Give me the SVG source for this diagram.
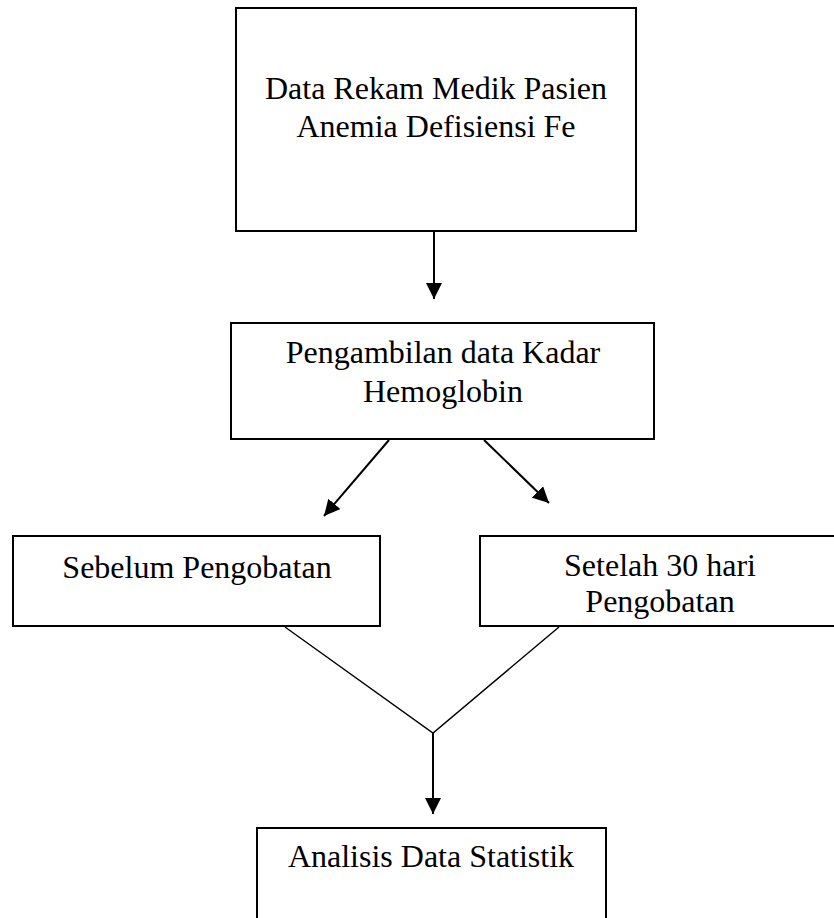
<svg xmlns="http://www.w3.org/2000/svg" width="834" height="918" viewBox="0 0 834 918">
<defs>
<style>
.box{fill:#fff;stroke:#000;stroke-width:2}
.t{font-family:"Liberation Serif","Times New Roman",serif;font-size:32px;fill:#000;text-anchor:middle}
.c{stroke:#000;stroke-width:2;fill:none}
.v{stroke:#000;stroke-width:1.4;fill:none}
</style>
<marker id="ah" viewBox="0 0 10 10" refX="10" refY="5" markerWidth="8" markerHeight="8" markerUnits="userSpaceOnUse" orient="auto">
<path d="M0,0 L10,5 L0,10 z" fill="#000"/>
</marker>
<marker id="ah2" viewBox="0 0 10 10" refX="10" refY="5" markerWidth="16" markerHeight="16" markerUnits="userSpaceOnUse" orient="auto">
<path d="M0,0 L10,5 L0,10 z" fill="#000"/>
</marker>
</defs>
<rect width="834" height="918" fill="#fff"/>
<g id="connectors">
<line class="c" x1="434" y1="232" x2="434" y2="299" marker-end="url(#ah2)"/>
<line class="c" x1="389" y1="440" x2="324" y2="516" marker-end="url(#ah2)"/>
<line class="c" x1="484" y1="440" x2="549" y2="503" marker-end="url(#ah2)"/>
<polyline class="v" points="285,627 433,733 559,627"/>
<line class="c" x1="433" y1="733" x2="433" y2="814" marker-end="url(#ah2)"/>
</g>
<g id="n1">
<rect class="box" x="236" y="8" width="400" height="223"/>
<text class="t" x="436" y="99">Data Rekam Medik Pasien</text>
<text class="t" x="436" y="137">Anemia Defisiensi Fe</text>
</g>
<g id="n2">
<rect class="box" x="231" y="323" width="423" height="116"/>
<text class="t" x="443" y="363">Pengambilan data Kadar</text>
<text class="t" x="443" y="402">Hemoglobin</text>
</g>
<g id="n3">
<rect class="box" x="13" y="536" width="367" height="90"/>
<text class="t" x="197" y="578">Sebelum Pengobatan</text>
</g>
<g id="n4">
<rect class="box" x="480" y="536" width="362" height="90"/>
<text class="t" x="660" y="576">Setelah 30 hari</text>
<text class="t" x="660" y="612">Pengobatan</text>
</g>
<g id="n5">
<rect class="box" x="257" y="828" width="349" height="110"/>
<text class="t" x="431" y="867">Analisis Data Statistik</text>
</g>
</svg>
